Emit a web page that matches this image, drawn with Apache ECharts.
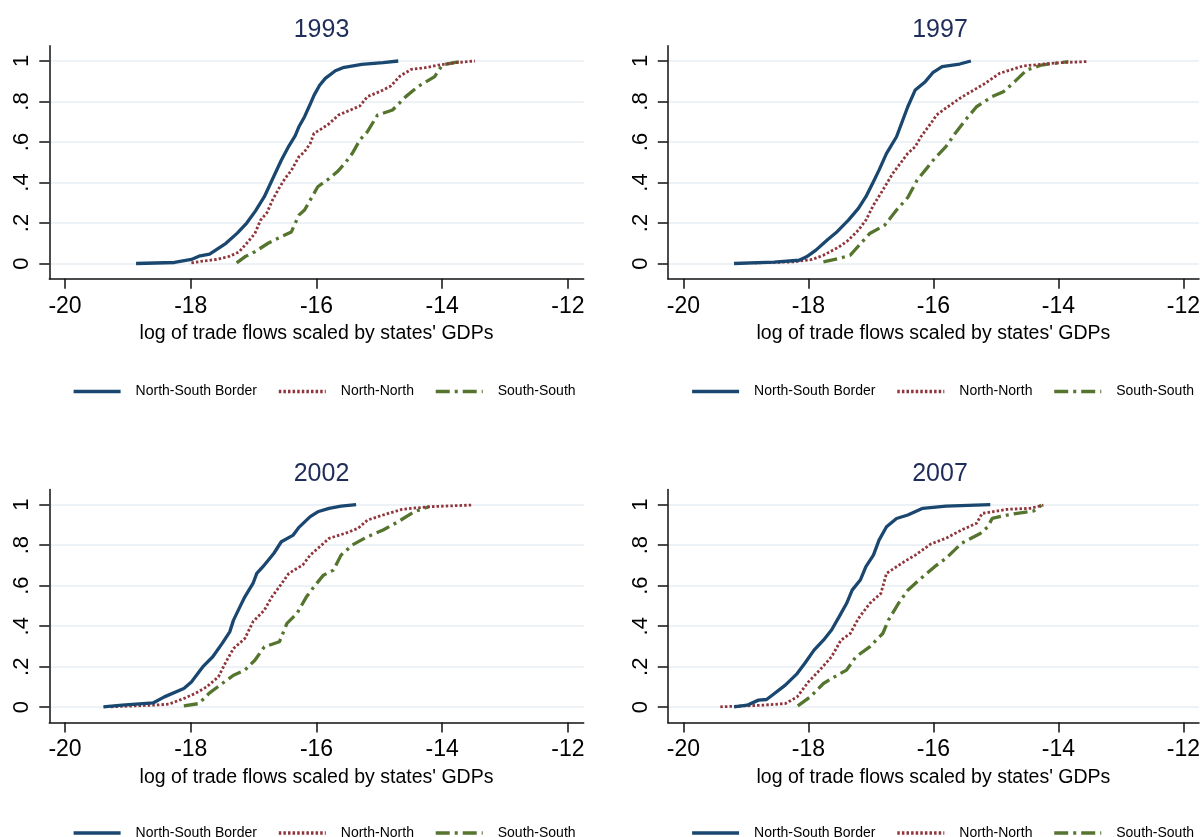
<!DOCTYPE html>
<html><head><meta charset="utf-8">
<script src="https://cdn.jsdelivr.net/npm/echarts@6/dist/echarts.min.js"></script>
<style>html,body{margin:0;padding:0;background:#fff}#c{width:1203px;height:837px}</style>
</head><body><div id="c"></div><script>
const years = ['1993', '1997', '2002', '2007'];
const seriesNames = ['North-South Border', 'North-North', 'South-South'];
const xTicks = [-20, -18, -16, -14, -12];
const yTicks = [0, 0.2, 0.4, 0.6, 0.8, 1];
const yTickLabels = ['0', '.2', '.4', '.6', '.8', '1'];
const xAxisTitle = "log of trade flows scaled by states' GDPs";

// 1993
const ns1993 = [[-18.87,0],[-18.26,0.005],[-17.99,0.02],[-17.87,0.036],[-17.70,0.046],[-17.44,0.1],[-17.26,0.15],[-17.11,0.2],[-16.97,0.26],[-16.83,0.33],[-16.71,0.41],[-16.56,0.51],[-16.44,0.58],[-16.34,0.63],[-16.28,0.675],[-16.19,0.725],[-16.11,0.78],[-16.04,0.83],[-15.95,0.88],[-15.86,0.914],[-15.70,0.952],[-15.58,0.967],[-15.28,0.983],[-14.94,0.992],[-14.70,1.0]];
const nn1993 = [[-17.99,0.003],[-17.81,0.012],[-17.59,0.02],[-17.38,0.036],[-17.23,0.058],[-17.11,0.1],[-16.98,0.148],[-16.89,0.214],[-16.79,0.25],[-16.70,0.313],[-16.60,0.37],[-16.50,0.42],[-16.40,0.46],[-16.28,0.527],[-16.19,0.552],[-16.10,0.593],[-16.04,0.643],[-15.95,0.659],[-15.80,0.69],[-15.65,0.733],[-15.52,0.75],[-15.31,0.778],[-15.19,0.824],[-15.00,0.848],[-14.82,0.876],[-14.67,0.926],[-14.49,0.959],[-14.27,0.967],[-14.06,0.98],[-13.78,0.992],[-13.48,1.0]];
const ss1993 = [[-17.27,0.003],[-17.14,0.033],[-16.98,0.058],[-16.77,0.1],[-16.59,0.128],[-16.40,0.156],[-16.34,0.198],[-16.28,0.239],[-16.19,0.264],[-16.10,0.313],[-15.98,0.379],[-15.83,0.412],[-15.67,0.453],[-15.55,0.494],[-15.43,0.544],[-15.31,0.61],[-15.19,0.651],[-15.03,0.733],[-14.79,0.758],[-14.58,0.824],[-14.39,0.873],[-14.12,0.923],[-14.00,0.98],[-13.81,0.992],[-13.66,1.0]];
// 1997
const ns1997 = [[-19.19,0],[-18.55,0.007],[-18.15,0.016],[-18.03,0.033],[-17.88,0.066],[-17.69,0.119],[-17.54,0.157],[-17.36,0.214],[-17.20,0.272],[-17.08,0.33],[-16.96,0.404],[-16.87,0.461],[-16.75,0.544],[-16.59,0.626],[-16.50,0.70],[-16.41,0.774],[-16.29,0.857],[-16.13,0.898],[-16.01,0.942],[-15.86,0.972],[-15.58,0.985],[-15.40,1.0]];
const nn1997 = [[-18.86,0.003],[-18.24,0.008],[-17.94,0.02],[-17.76,0.041],[-17.51,0.082],[-17.36,0.115],[-17.20,0.165],[-17.08,0.214],[-16.96,0.288],[-16.81,0.362],[-16.65,0.445],[-16.53,0.494],[-16.41,0.544],[-16.29,0.577],[-16.20,0.626],[-16.04,0.692],[-15.95,0.733],[-15.77,0.774],[-15.58,0.815],[-15.43,0.843],[-15.19,0.886],[-14.94,0.939],[-14.57,0.975],[-14.27,0.984],[-13.96,0.992],[-13.54,0.997]];
const ss1997 = [[-17.76,0.008],[-17.51,0.025],[-17.33,0.041],[-17.14,0.107],[-17.02,0.148],[-16.78,0.189],[-16.59,0.264],[-16.41,0.326],[-16.26,0.412],[-16.13,0.461],[-15.98,0.519],[-15.80,0.577],[-15.65,0.643],[-15.49,0.708],[-15.31,0.774],[-15.06,0.824],[-14.88,0.848],[-14.70,0.898],[-14.51,0.955],[-14.27,0.98],[-13.84,0.997]];
// 2002
const ns2002 = [[-19.39,0.002],[-19.09,0.01],[-18.60,0.021],[-18.42,0.051],[-18.11,0.092],[-17.99,0.125],[-17.81,0.199],[-17.65,0.249],[-17.50,0.315],[-17.38,0.372],[-17.32,0.43],[-17.23,0.488],[-17.14,0.545],[-17.01,0.611],[-16.95,0.661],[-16.83,0.702],[-16.68,0.759],[-16.56,0.817],[-16.37,0.85],[-16.28,0.888],[-16.10,0.941],[-15.98,0.965],[-15.80,0.982],[-15.61,0.993],[-15.37,1.0]];
const nn2002 = [[-19.27,0.002],[-18.60,0.01],[-18.35,0.015],[-18.11,0.043],[-17.93,0.068],[-17.75,0.10],[-17.56,0.15],[-17.44,0.224],[-17.32,0.29],[-17.14,0.339],[-17.01,0.422],[-16.83,0.479],[-16.71,0.545],[-16.59,0.595],[-16.44,0.661],[-16.22,0.702],[-16.10,0.751],[-15.95,0.792],[-15.80,0.834],[-15.55,0.858],[-15.34,0.883],[-15.19,0.924],[-14.94,0.949],[-14.64,0.977],[-14.21,0.99],[-13.54,0.998]];
const ss2002 = [[-18.11,0.007],[-17.87,0.018],[-17.71,0.068],[-17.50,0.117],[-17.32,0.158],[-17.14,0.183],[-16.98,0.232],[-16.83,0.298],[-16.59,0.323],[-16.47,0.414],[-16.31,0.463],[-16.16,0.545],[-16.04,0.595],[-15.89,0.652],[-15.73,0.677],[-15.61,0.751],[-15.43,0.801],[-15.19,0.842],[-14.94,0.875],[-14.70,0.916],[-14.45,0.965],[-14.21,0.99]];
// 2007
const ns2007 = [[-19.19,0.002],[-18.98,0.01],[-18.80,0.035],[-18.67,0.038],[-18.58,0.059],[-18.37,0.109],[-18.18,0.166],[-18.06,0.216],[-17.91,0.282],[-17.76,0.331],[-17.63,0.381],[-17.51,0.446],[-17.39,0.512],[-17.30,0.578],[-17.17,0.628],[-17.08,0.694],[-16.96,0.751],[-16.87,0.825],[-16.75,0.891],[-16.59,0.932],[-16.41,0.949],[-16.17,0.982],[-15.80,0.993],[-15.09,1.0]];
const nn2007 = [[-19.41,0.002],[-18.73,0.01],[-18.37,0.018],[-18.18,0.051],[-18.00,0.125],[-17.82,0.183],[-17.63,0.249],[-17.48,0.331],[-17.33,0.364],[-17.20,0.438],[-17.02,0.512],[-16.84,0.562],[-16.75,0.661],[-16.47,0.718],[-16.29,0.751],[-16.04,0.806],[-15.80,0.834],[-15.55,0.875],[-15.31,0.908],[-15.22,0.957],[-14.82,0.977],[-14.45,0.982],[-14.24,0.998]];
const ss2007 = [[-18.17,0.007],[-17.97,0.051],[-17.76,0.117],[-17.54,0.158],[-17.39,0.183],[-17.24,0.249],[-17.02,0.298],[-16.81,0.364],[-16.72,0.43],[-16.56,0.512],[-16.41,0.578],[-16.23,0.628],[-15.98,0.694],[-15.80,0.735],[-15.55,0.809],[-15.25,0.858],[-15.13,0.891],[-15.06,0.932],[-14.82,0.949],[-14.39,0.97],[-14.27,0.998]];

const panelData = [[ns1993, nn1993, ss1993], [ns1997, nn1997, ss1997], [ns2002, nn2002, ss2002], [ns2007, nn2007, ss2007]];

const FONT = '"Liberation Sans", Arial, sans-serif';
const colors = ['#1a476f', '#90353b', '#55752f'];
const lineStyles = [
  {width: 3.3, type: 'solid'},
  {width: 2.8, type: [2.5, 2.1], cap: 'butt'},
  {width: 3.3, type: [14, 5, 3, 5], cap: 'butt'}
];
const panelLeft = [49.3, 667.8, 49.3, 667.8];
const panelTop = [45.8, 45.8, 489.5, 489.5];
const legendTop = [379.5, 379.5, 821, 821];
const PW = 534.4, PH = 232.9;

const grids = [], xAxes = [], yAxes = [], series = [], titles = [], legends = [];
for (let p = 0; p < 4; p++) {
  grids.push({left: panelLeft[p], top: panelTop[p], width: PW, height: PH, containLabel: false});
  titles.push({
    text: years[p], left: panelLeft[p] + PW / 2, top: panelTop[p] - 33, textAlign: 'center',
    textStyle: {fontFamily: FONT, fontSize: 25, fontWeight: 'normal', color: '#1f2d5a'}
  });
  xAxes.push({
    type: 'value', gridIndex: p, min: -20.25, max: -11.75,
    name: xAxisTitle, nameLocation: 'middle', nameGap: 45,
    nameTextStyle: {fontFamily: FONT, fontSize: 19.5, color: '#000'},
    axisLine: {show: true, onZero: false, lineStyle: {color: '#111', width: 1.5}},
    axisTick: {show: true, length: 10, customValues: xTicks, lineStyle: {color: '#111', width: 1.5}},
    axisLabel: {customValues: xTicks, margin: 16, fontFamily: FONT, fontSize: 23, color: '#000',
      formatter: v => String(v)},
    splitLine: {show: false}
  });
  yAxes.push({
    type: 'value', gridIndex: p, min: -0.075, max: 1.075,
    axisLine: {show: true, onZero: false, lineStyle: {color: '#111', width: 1.5}},
    axisTick: {show: true, length: 10, customValues: yTicks, lineStyle: {color: '#111', width: 1.5}},
    axisLabel: {customValues: yTicks, rotate: 90, margin: 16, fontFamily: FONT, fontSize: 22, color: '#000',
      formatter: v => yTickLabels[Math.round(v * 5)]},
    splitLine: {show: true, lineStyle: {color: '#e6eef2', width: 1.6}}
  });
  for (let s = 0; s < 3; s++) {
    series.push({
      name: seriesNames[s], type: 'line', xAxisIndex: p, yAxisIndex: p,
      data: panelData[p][s], showSymbol: false, symbol: 'none',
      lineStyle: Object.assign({color: colors[s]}, lineStyles[s]),
      itemStyle: {color: colors[s]}, z: 3 - s
    });
  }
  legends.push({
    left: panelLeft[p] + 17.5, top: legendTop[p], orient: 'horizontal',
    itemWidth: 47, itemHeight: 14, itemGap: 20, selectedMode: false,
    data: seriesNames,
    itemStyle: {opacity: 0},
    lineStyle: {width: 3.6},
    textStyle: {fontFamily: FONT, fontSize: 14, color: '#000', padding: [0, 0, 0, 10]}
  });
}

const chart = echarts.init(document.getElementById('c'), null, {renderer: 'canvas'});
chart.setOption({
  animation: false, backgroundColor: '#fff',
  title: titles, grid: grids, xAxis: xAxes, yAxis: yAxes, legend: legends, series: series
});
</script></body></html>
